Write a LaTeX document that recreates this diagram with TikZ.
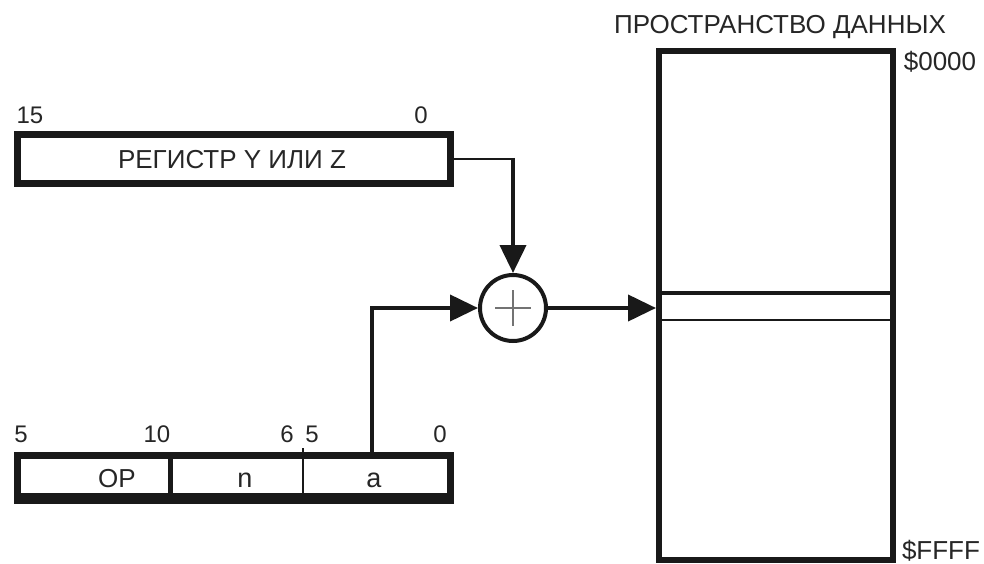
\documentclass[tikz,border=0pt]{standalone}
\usepackage{fontspec}
\setmainfont{Liberation Sans}
\usetikzlibrary{arrows.meta,calc}
\begin{document}
\begin{tikzpicture}[x=1pt,y=-1pt,
  txt/.style={font=\fontsize{26}{30}\selectfont, inner sep=0pt, text=black!85},
  num/.style={font=\fontsize{24}{28}\selectfont, inner sep=0pt, text=black!85},
  small/.style={font=\fontsize{27}{30}\selectfont, inner sep=0pt, text=black!85},
  boxthick/.style={draw=black!90, line width=7pt, minimum width=433pt, minimum height=49pt, inner sep=0pt},
  conn/.style={draw=black!90, line width=4pt},
  tip/.style={-{Triangle[length=28pt,width=26pt]}}
]
\useasboundingbox (0,0) rectangle (984,564);
% register box
\node[boxthick, anchor=center] (reg) at (234,159) {};
\node[txt] (regtxt) at (232,160) {РЕГИСТР Y ИЛИ Z};
\node[num] (r15) at (30,115) {15};
\node[num] (r0) at (421,115) {0};
% instruction box
\node[boxthick, minimum height=45pt] (ins) at (234,478) {};
\fill[black!90] (14,493) rectangle (454,504);
\coordinate (d1t) at (170,455.5);
\coordinate (d1b) at (170,500);
\coordinate (d2t) at (303,448);
\coordinate (d2b) at (303,500);
\draw[black!90, line width=5pt] (d1t) -- (d1b);
\draw[black!90, line width=2pt] (d2t) -- (d2b);
\node[txt] (op) at (117,479) {OP};
\node[small] (nn) at (245,480) {n};
\node[small] (aa) at (374,480) {a};
\node[num] (b5a) at (21,434) {5};
\node[num] (b10) at (157,434) {10};
\node[num] (b6) at (287,434) {6};
\node[num] (b5b) at (312,434) {5};
\node[num] (b0) at (440,434) {0};
% adder
\node[circle, draw=black!90, line width=4pt, minimum size=66pt, inner sep=0pt] (sum) at (513,308) {};
\draw[black!55, line width=2pt] ($(sum.center)+(-18,0)$) -- ($(sum.center)+(18,0)$);
\draw[black!55, line width=2pt] ($(sum.center)+(0,-18)$) -- ($(sum.center)+(0,18)$);
% memory
\node[draw=black!90, line width=6pt, minimum width=234pt, minimum height=509pt, inner sep=0pt] (mem) at (776,305.5) {};
\draw[black!90, line width=4pt] (mem.west |- 0,293) ++(3,0) coordinate (l1a) -- (l1a -| mem.east) ++(-3,0);
\draw[black!90, line width=2pt] (mem.west |- 0,320) ++(3,0) coordinate (l2a) -- (l2a -| mem.east) ++(-3,0);
\node[txt] (title) at (780,27) {ПРОСТРАНСТВО ДАННЫХ};
\node[txt] (s0) at (940,62) {\$0000};
\node[txt] (sf) at (941,551) {\$FFFF};
% connectors
\coordinate (bend1) at (sum.north |- reg.east);
\draw[black!90, line width=2pt] (reg.east) -- (bend1);
\draw[conn, tip] ($(bend1)+(0,-1)$) -- (sum.north);
\coordinate (afoot) at (372,452);
\draw[conn, tip] (afoot) |- (sum.west);
\draw[conn, tip] (sum.east) -- (sum.east -| mem.west);
\end{tikzpicture}
\end{document}
